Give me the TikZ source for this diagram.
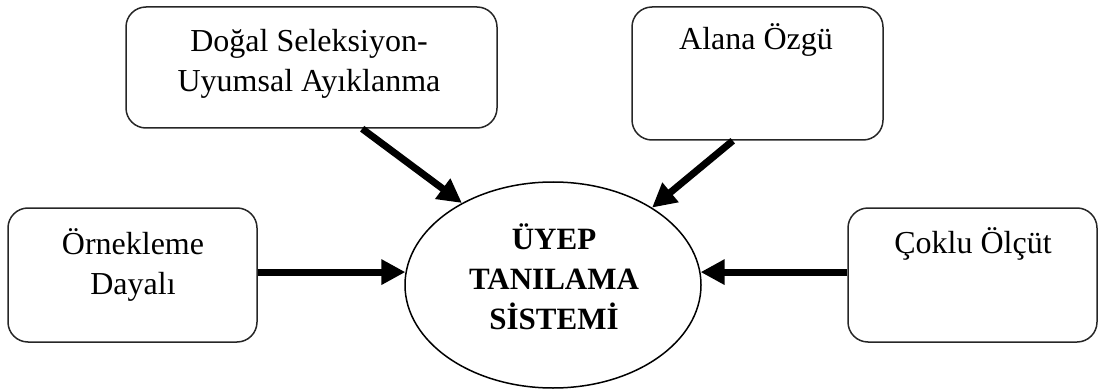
\documentclass[tikz,border=0pt]{standalone}
\usepackage{fontspec}
\setmainfont{Liberation Serif}
\usetikzlibrary{arrows.meta,shapes.geometric,calc}

\tikzset{
  box/.style={draw=black!85, line width=1.5pt, rounded corners=20pt,
    rectangle, inner sep=0pt},
  boxtext/.style={font=\fontsize{32}{40}\selectfont, align=center, anchor=base, inner sep=0pt},
  core/.style={draw, line width=1.5pt, ellipse, inner sep=0pt,
    minimum width=296pt, minimum height=206pt},
  coretext/.style={font=\fontsize{31}{40}\selectfont\bfseries, align=center, anchor=base, inner sep=0pt},
  feed/.style={line width=7pt, -{Triangle[length=24pt,width=24pt]}}
}

\begin{document}
\begin{tikzpicture}[x=1pt,y=-1pt]
  \useasboundingbox (0,0) rectangle (1099,390);

  % input boxes
  \node[box, minimum width=371pt, minimum height=121pt] (dogal) at (311.5,67.5) {};
  \node[box, minimum width=251pt, minimum height=133pt] (alana) at (757.5,73.5) {};
  \node[box, minimum width=249pt, minimum height=134pt] (orn)   at (132.5,275) {};
  \node[box, minimum width=249pt, minimum height=134pt] (cok)   at (972.5,275) {};

  % box labels (base anchor sits on the last line)
  \node[boxtext] (dogalt) at (309,92)  {Doğal Seleksiyon-\\Uyumsal Ayıklanma};
  \node[boxtext] (alanat) at (756,50)  {Alana Özgü};
  \node[boxtext] (ornt)   at (133,294) {Örnekleme\\Dayalı};
  \node[boxtext] (cokt)   at (973,253) {Çoklu Ölçüt};

  % central system
  \node[core] (ell) at (553,285) {};
  \node[coretext] (ellt) at (554,329) {ÜYEP\\TANILAMA\\SİSTEMİ};

  % arrows into the system
  \draw[feed] ($(dogal.south west)!0.636!(dogal.south east)$) -- (ell.138.7);
  \draw[feed] ($(alana.south west)!0.402!(alana.south east)$) -- (ell.38.2);
  \draw[feed] (orn.east |- ell.175) -- (ell.175);
  \draw[feed] (cok.west |- ell.5) -- (ell.5);
\end{tikzpicture}
\end{document}
